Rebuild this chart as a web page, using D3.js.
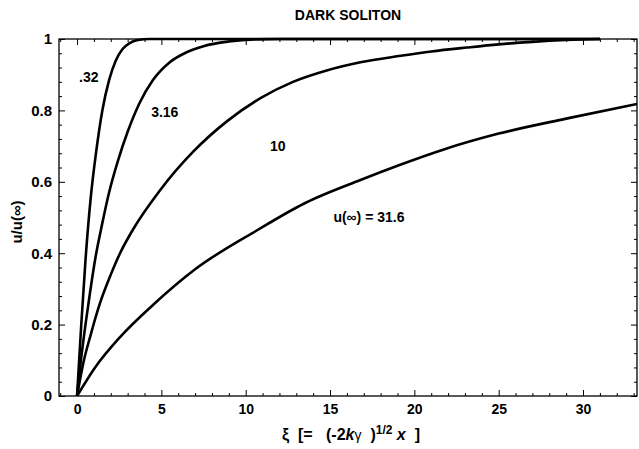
<!DOCTYPE html>
<html>
<head>
<meta charset="utf-8">
<script src="https://cdn.jsdelivr.net/npm/d3@7"></script>
<style>
  body { margin: 0; background: #fff; }
  text { font-family: "Liberation Sans", Arial, sans-serif; font-weight: bold; }
</style>
</head>
<body>
<div id="chart"></div>
<script>
// valores (xi, u/u(oo)) para cada u(oo)
const curveNames = [".32", "3.16", "10", "u(\u221e) = 31.6"];

const xi32 = [0, 0.25, 0.5, 0.8, 1.15, 1.5, 1.9, 2.3, 2.7, 3.1, 3.6, 4.3, 8, 15, 25, 31];
const u32 = [0, 0.2, 0.38, 0.55, 0.69, 0.8, 0.885, 0.94, 0.972, 0.988, 0.997, 1, 1, 1, 1, 1];

const xi316 = [0, 0.18, 0.5, 0.77, 1.1, 1.48, 1.9, 2.4, 3.0, 3.7, 4.5, 5.5, 6.5, 7.5, 9, 10.5, 12, 20, 31];
const u316 = [0, 0.08, 0.2, 0.29, 0.39, 0.48, 0.57, 0.655, 0.74, 0.82, 0.885, 0.935, 0.963, 0.98, 0.993, 0.999, 1, 1, 1];

const xi10 = [0, 0.36, 0.8, 1.36, 2, 2.55, 3.3, 4.9, 6.9, 8.9, 10.9, 12.8, 14.8, 16.8, 19.2, 21, 23.1, 25, 27, 29, 31];
const u10 = [0, 0.09, 0.17, 0.26, 0.34, 0.40, 0.465, 0.575, 0.685, 0.77, 0.835, 0.88, 0.912, 0.935, 0.953, 0.965, 0.976, 0.985, 0.992, 0.997, 1];

const xi316b = [0, 1.07, 2.55, 4.5, 7, 10.7, 13.5, 16.8, 19, 21.7, 25, 29, 33.2];
const u316b = [0, 0.08, 0.165, 0.255, 0.355, 0.465, 0.54, 0.605, 0.645, 0.69, 0.735, 0.777, 0.818];

// onde cada rótulo fica (coordenadas do gráfico)
const labelXi = [0.7, 5.2, 11.9, 15.2];
const labelU = [0.894, 0.796, 0.70, 0.50];

const xTicks = [0, 5, 10, 15, 20, 25, 30];
const yTicks = [0, 0.2, 0.4, 0.6, 0.8, 1];

const W = 639, H = 449;
const mLeft = 59, mRight = 637, mTop = 39, mBottom = 396;

var svg = d3.select('#chart')
    .append('svg')
    .attr('width', W)
    .attr('height', H);

const x = d3.scaleLinear().domain([-1.07, 33.2]).range([mLeft, mRight]);
const y = d3.scaleLinear().domain([0, 1]).range([mBottom, mTop]);

// ticks menores
const xMinor = d3.range(-1, 34, 1).filter(v => v % 5 != 0);
const yMinor = d3.range(0, 1.001, 0.04).map(v => +v.toFixed(2)).filter(v => Math.abs(v * 5 - Math.round(v * 5)) > 1e-6);

function styleAxis(g, size) {
    g.select('.domain').remove();
    g.selectAll('line').attr('stroke', '#000').attr('stroke-width', 1);
    g.selectAll('text')
        .attr('font-family', '"Liberation Sans", Arial, sans-serif')
        .attr('font-weight', 'bold')
        .attr('font-size', size || 14)
        .attr('fill', '#000');
}

// eixo x em baixo
svg.append('g')
    .attr('transform', `translate(0,${mBottom})`)
    .call(d3.axisBottom(x).tickValues(xTicks).tickSize(-6).tickPadding(8).tickFormat(d3.format('d')))
    .call(styleAxis, 14);
svg.append('g')
    .attr('transform', `translate(0,${mBottom})`)
    .call(d3.axisBottom(x).tickValues(xMinor).tickSize(-3).tickFormat(''))
    .call(styleAxis);

// eixo x em cima (sem números)
svg.append('g')
    .attr('transform', `translate(0,${mTop})`)
    .call(d3.axisTop(x).tickValues(xTicks).tickSize(-6).tickFormat(''))
    .call(styleAxis);
svg.append('g')
    .attr('transform', `translate(0,${mTop})`)
    .call(d3.axisTop(x).tickValues(xMinor).tickSize(-3).tickFormat(''))
    .call(styleAxis);

// eixo y esquerda
svg.append('g')
    .attr('transform', `translate(${mLeft},0)`)
    .call(d3.axisLeft(y).tickValues(yTicks).tickSize(-6).tickPadding(7).tickFormat(d => d == 0 || d == 1 ? d3.format('d')(d) : d3.format('.1f')(d)))
    .call(styleAxis, 15);
svg.append('g')
    .attr('transform', `translate(${mLeft},0)`)
    .call(d3.axisLeft(y).tickValues(yMinor).tickSize(-3).tickFormat(''))
    .call(styleAxis);

// eixo y direita
svg.append('g')
    .attr('transform', `translate(${mRight},0)`)
    .call(d3.axisRight(y).tickValues(yTicks).tickSize(-6).tickFormat(''))
    .call(styleAxis);
svg.append('g')
    .attr('transform', `translate(${mRight},0)`)
    .call(d3.axisRight(y).tickValues(yMinor).tickSize(-3).tickFormat(''))
    .call(styleAxis);

// moldura
svg.append('rect')
    .attr('x', mLeft).attr('y', mTop)
    .attr('width', mRight - mLeft).attr('height', mBottom - mTop)
    .attr('fill', 'none')
    .attr('stroke', '#000')
    .attr('stroke-width', 1.3);

// curvas
const series = [[xi32, u32], [xi316, u316], [xi10, u10], [xi316b, u316b]];

const line = d3.line()
    .x(d => x(d[0]))
    .y(d => y(d[1]))
    .curve(d3.curveMonotoneX);

svg.append('defs').append('clipPath').attr('id', 'clip')
    .append('rect').attr('x', mLeft).attr('y', mTop - 3).attr('width', mRight - mLeft).attr('height', mBottom - mTop + 3);

svg.append('g')
    .attr('clip-path', 'url(#clip)')
    .selectAll('path')
    .data(series)
    .join('path')
    .attr('d', s => line(s[0].map((v, i) => [v, s[1][i]])))
    .attr('fill', 'none')
    .attr('stroke', '#000')
    .attr('stroke-width', 2.6)
    .attr('stroke-linejoin', 'round');

// rótulos das curvas
svg.append('g')
    .selectAll('text')
    .data(curveNames)
    .join('text')
    .attr('x', (d, i) => x(labelXi[i]))
    .attr('y', (d, i) => y(labelU[i]))
    .attr('dy', '0.35em')
    .attr('text-anchor', (d, i) => i == 3 ? 'start' : 'middle')
    .attr('font-size', 14)
    .text(d => d);

// título
svg.append('text')
    .attr('x', (mLeft + mRight) / 2)
    .attr('y', 20)
    .attr('text-anchor', 'middle')
    .attr('font-size', 14)
    .text('DARK SOLITON');

// rótulo do eixo x
const xl = svg.append('text')
    .attr('x', 351)
    .attr('y', 440)
    .attr('text-anchor', 'middle')
    .attr('font-size', 16)
    .attr('xml:space', 'preserve')
    .style('white-space', 'pre');
xl.append('tspan').text('\u03be  [=   (-2');
xl.append('tspan').attr('font-style', 'italic').text('k');
xl.append('tspan').attr('font-weight', 'normal').attr('font-size', 14).text('\u03b3');
xl.append('tspan').text('  )');
xl.append('tspan').attr('font-size', 12).attr('dy', -6).text('1/2');
xl.append('tspan').attr('dy', 6).attr('font-style', 'italic').text(' x');
xl.append('tspan').text('  ]');

// rótulo do eixo y
svg.append('text')
    .attr('transform', 'translate(22,222) rotate(-90)')
    .attr('text-anchor', 'middle')
    .attr('font-size', 15)
    .text('u/u(\u221e)');
</script>
</body>
</html>
